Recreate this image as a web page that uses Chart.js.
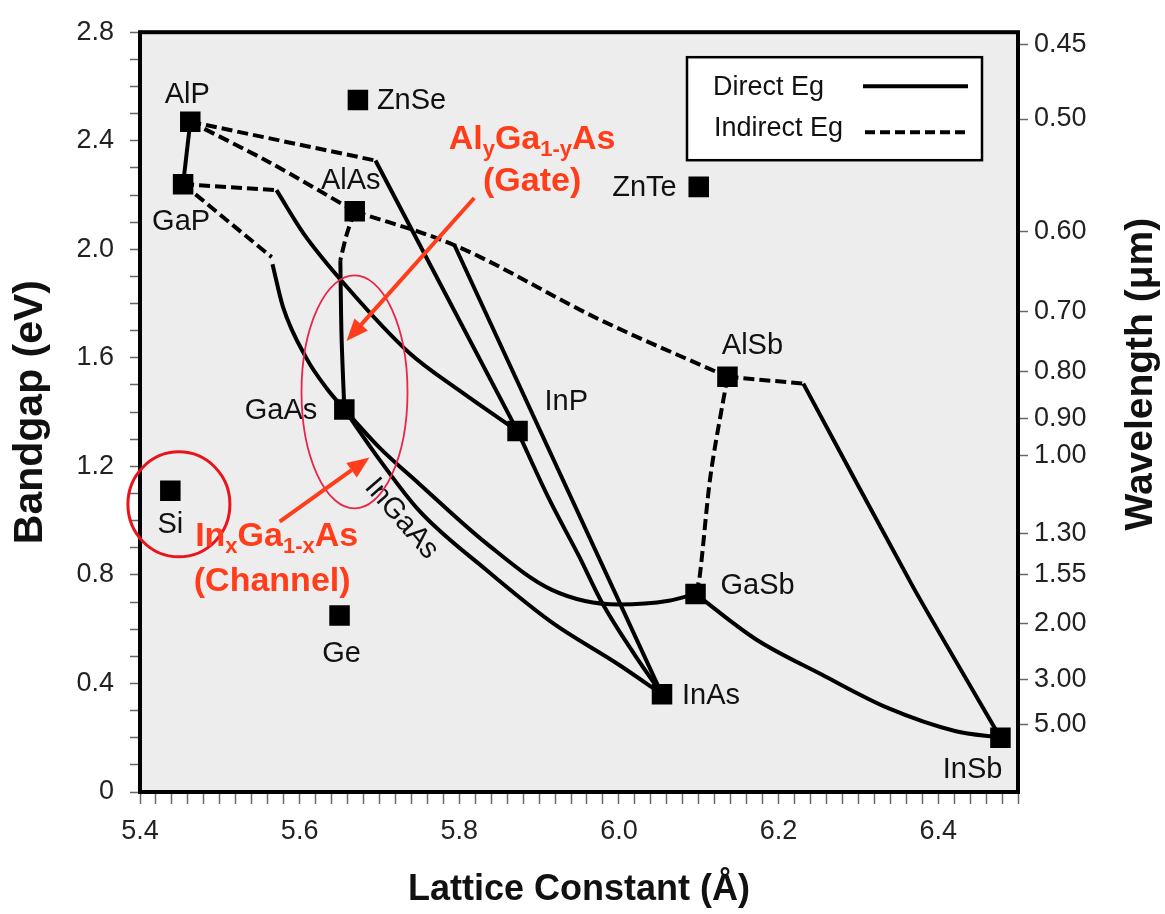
<!DOCTYPE html>
<html>
<head>
<meta charset="utf-8">
<script src="https://cdn.jsdelivr.net/npm/chart.js@4.4.1/dist/chart.umd.min.js"></script>
<style>
  body { margin: 0; background: #fff; }
  canvas { display: block; }
</style>
</head>
<body>
<canvas id="chart" width="1165" height="914"></canvas>
<script>
// binary compounds
const materials = ["AlP", "GaP", "AlAs", "GaAs", "InP", "AlSb", "GaSb", "InAs", "InSb", "Si", "Ge", "ZnSe", "ZnTe"];
const latticeConst = [5.463, 5.454, 5.669, 5.656, 5.873, 6.136, 6.096, 6.054, 6.478, 5.438, 5.650, 5.673, 6.100];
const bandgap = [2.47, 2.24, 2.14, 1.41, 1.33, 1.53, 0.73, 0.36, 0.20, 1.11, 0.65, 2.55, 2.23];

// ternary alloy curves (x: lattice constant in Å, y: bandgap in eV)
const alGaPX = [5.463, 5.454];
const alGaPY = [2.47, 2.24];
const alAsPX = [5.463, 5.5625, 5.669];
const alAsPY = [2.47, 2.32, 2.14];
const alInPIndX = [5.463, 5.695];
const alInPIndY = [2.47, 2.327];
const alInPX = [5.695, 5.873];
const alInPY = [2.327, 1.33];
const gaInPIndX = [5.454, 5.571];
const gaInPIndY = [2.24, 2.218];
const gaInPX = [5.571, 5.605, 5.659, 5.7375, 5.80, 5.873];
const gaInPY = [2.218, 2.058, 1.862, 1.618, 1.48, 1.33];
const gaAsPIndX = [5.454, 5.565];
const gaAsPIndY = [2.24, 1.971];
const gaAsPX = [5.566, 5.579, 5.609, 5.634, 5.656];
const gaAsPY = [1.945, 1.789, 1.596, 1.487, 1.41];
const alGaAsIndX = [5.669, 5.659, 5.651];
const alGaAsIndY = [2.14, 2.055, 1.96];
const alGaAsX = [5.651, 5.6525, 5.656];
const alGaAsY = [1.96, 1.68, 1.41];
const alAsSbX = [5.669, 5.794, 5.975, 6.136];
const alAsSbY = [2.14, 2.015, 1.742, 1.53];
const alInAsX = [5.794, 6.054];
const alInAsY = [2.015, 0.36];
const inAsPX = [5.873, 5.9125, 5.95, 5.9775, 6.019, 6.054];
const inAsPY = [1.33, 1.08, 0.869, 0.705, 0.509, 0.36];
const gaAsSbX = [5.656, 5.70, 5.75, 5.834, 5.916, 6.0, 6.0625, 6.096];
const gaAsSbY = [1.41, 1.269, 1.135, 0.916, 0.745, 0.691, 0.705, 0.73];
const inGaAsX = [5.656, 5.70, 5.75, 5.834, 5.916, 6.0, 6.054];
const inGaAsY = [1.41, 1.225, 1.036, 0.818, 0.625, 0.469, 0.36];
const alGaSbX = [6.136, 6.115, 6.101, 6.096];
const alGaSbY = [1.53, 1.171, 0.789, 0.73];
const alInSbIndX = [6.136, 6.231];
const alInSbIndY = [1.53, 1.505];
const alInSbX = [6.231, 6.369, 6.478];
const alInSbY = [1.505, 0.753, 0.20];
const gaInSbX = [6.096, 6.171, 6.254, 6.3375, 6.421, 6.478];
const gaInSbY = [0.73, 0.564, 0.433, 0.309, 0.225, 0.20];

// axes
const latticeLabels = [5.4, 5.6, 5.8, 6.0, 6.2, 6.4];
const bandgapLabels = [0, 0.4, 0.8, 1.2, 1.6, 2.0, 2.4, 2.8];
const wavelengthTicks = [0.45, 0.50, 0.60, 0.70, 0.80, 0.90, 1.00, 1.30, 1.55, 2.00, 3.00, 5.00];

// [x, y, indirect gap?, smoothing] ("m" = monotone cubic)
const curves = [
  [alGaPX, alGaPY, false, 0],
  [alAsPX, alAsPY, true, 0.3],
  [alInPIndX, alInPIndY, true, 0],
  [alInPX, alInPY, false, 0],
  [gaInPIndX, gaInPIndY, true, 0],
  [gaInPX, gaInPY, false, "m"],
  [gaAsPIndX, gaAsPIndY, true, 0],
  [gaAsPX, gaAsPY, false, "m"],
  [alGaAsIndX, alGaAsIndY, true, 0.3],
  [alGaAsX, alGaAsY, false, 0.3],
  [alAsSbX, alAsSbY, true, "m"],
  [alInAsX, alInAsY, false, 0],
  [inAsPX, inAsPY, false, "m"],
  [gaAsSbX, gaAsSbY, false, "m"],
  [inGaAsX, inGaAsY, false, "m"],
  [alGaSbX, alGaSbY, true, 0.3],
  [alInSbIndX, alInSbIndY, true, 0],
  [alInSbX, alInSbY, false, 0.2],
  [gaInSbX, gaInSbY, false, "m"],
];

const FONT = '"Liberation Sans", Arial, Helvetica, sans-serif';
Chart.defaults.font.family = FONT;
Chart.defaults.color = "#222";

// where the compound names sit relative to their marker (px)
const labelPos = {
  AlP: [-3, -27, "center"], GaP: [-2, 38, "center"], AlAs: [-4, -30, "center"],
  GaAs: [-27, 2, "right"], InP: [27, -29, "left"], AlSb: [25, -31, "center"],
  GaSb: [25, -8, "left"], InAs: [20, 2, "left"], InSb: [2, 32, "right"],
  Si: [0, 34, "center"], Ge: [2, 38, "center"], ZnSe: [19, 1, "left"], ZnTe: [-22, 1, "right"],
};

const datasets = [{
  data: materials.map((m, i) => ({ x: latticeConst[i], y: bandgap[i] })),
  showLine: false,
  pointStyle: "rect",
  pointRadius: 14.5,
  pointHoverRadius: 14.5,
  backgroundColor: "#000",
  borderColor: "#000",
  borderWidth: 0,
}];

curves.forEach(([xs, ys, indirect, smooth]) => {
  datasets.push({
    data: xs.map((x, i) => ({ x: x, y: ys[i] })),
    showLine: true,
    pointRadius: 0,
    borderColor: "#000",
    borderWidth: 4,
    borderDash: indirect ? [11, 5] : [],
    tension: smooth === "m" ? 0.4 : smooth,
    cubicInterpolationMode: smooth === "m" ? "monotone" : "default",
    fill: false,
  });
});

function drawArrow(ctx, x1, y1, x2, y2) {
  const ang = Math.atan2(y2 - y1, x2 - x1);
  const head = 22, half = 9;
  const bx = x2 - head * Math.cos(ang), by = y2 - head * Math.sin(ang);
  ctx.beginPath();
  ctx.moveTo(x1, y1);
  ctx.lineTo(bx, by);
  ctx.stroke();
  ctx.beginPath();
  ctx.moveTo(x2, y2);
  ctx.lineTo(bx + half * Math.sin(ang), by - half * Math.cos(ang));
  ctx.lineTo(bx - half * Math.sin(ang), by + half * Math.cos(ang));
  ctx.closePath();
  ctx.fill();
}

function drawRich(ctx, parts, cx, y) {
  const big = "bold 34px " + FONT;
  const small = "bold 22px " + FONT;
  let w = 0;
  parts.forEach((p) => {
    ctx.font = p[1] ? small : big;
    w += ctx.measureText(p[0]).width;
  });
  let x = cx - w / 2;
  ctx.textAlign = "left";
  ctx.textBaseline = "alphabetic";
  parts.forEach((p) => {
    ctx.font = p[1] ? small : big;
    ctx.fillText(p[0], x, p[1] ? y + 7 : y);
    x += ctx.measureText(p[0]).width;
  });
}

const decorPlugin = {
  id: "decor",
  beforeDraw(chart) {
    const { ctx, chartArea: a } = chart;
    ctx.save();
    ctx.fillStyle = "#ededed";
    ctx.fillRect(a.left, a.top, a.right - a.left, a.bottom - a.top);
    ctx.restore();
  },
  afterDatasetsDraw(chart) {
    const { ctx, chartArea: a } = chart;
    const xs = chart.scales.x, ys = chart.scales.y;
    const px = (v) => xs.getPixelForValue(v);
    const py = (v) => ys.getPixelForValue(v);
    ctx.save();

    // frame
    ctx.strokeStyle = "#000";
    ctx.lineWidth = 4;
    ctx.strokeRect(a.left, a.top, a.right - a.left, a.bottom - a.top);

    // legend box
    const lx = a.left + 547, ly = a.top + 25;
    ctx.fillStyle = "#fff";
    ctx.fillRect(lx, ly, 295, 103);
    ctx.lineWidth = 2.5;
    ctx.strokeRect(lx, ly, 295, 103);
    ctx.fillStyle = "#111";
    ctx.font = "27px " + FONT;
    ctx.textAlign = "left";
    ctx.textBaseline = "middle";
    ctx.fillText("Direct Eg", lx + 26, ly + 30);
    ctx.fillText("Indirect Eg", lx + 27, ly + 71);
    ctx.lineWidth = 4;
    ctx.beginPath();
    ctx.moveTo(lx + 176, ly + 29);
    ctx.lineTo(lx + 281, ly + 29);
    ctx.stroke();
    ctx.setLineDash([10, 5]);
    ctx.beginPath();
    ctx.moveTo(lx + 178, ly + 75);
    ctx.lineTo(lx + 281, ly + 75);
    ctx.stroke();
    ctx.setLineDash([]);

    // compound names
    ctx.font = "29px " + FONT;
    ctx.fillStyle = "#111";
    materials.forEach((m, i) => {
      const p = labelPos[m];
      ctx.textAlign = p[2];
      ctx.fillText(m, px(latticeConst[i]) + p[0], py(bandgap[i]) + p[1]);
    });

    // InGaAs along the curve
    ctx.save();
    ctx.translate(px(5.7275), py(1.007));
    ctx.rotate(49 * Math.PI / 180);
    ctx.textAlign = "center";
    ctx.font = "29px " + FONT;
    ctx.fillText("InGaAs", 0, 0);
    ctx.restore();

    // ellipses
    ctx.strokeStyle = "#e8141c";
    ctx.lineWidth = 3;
    ctx.beginPath();
    ctx.ellipse(px(5.44875), py(1.06), 51, 52.5, 0, 0, Math.PI * 2);
    ctx.stroke();
    ctx.strokeStyle = "#e8264a";
    ctx.lineWidth = 1.8;
    ctx.beginPath();
    ctx.ellipse(px(5.66875), py(1.4745), 53, 116.5, 0, 0, Math.PI * 2);
    ctx.stroke();

    // arrows and red notes
    ctx.strokeStyle = "#ff3d1a";
    ctx.fillStyle = "#ff3d1a";
    ctx.lineWidth = 4;
    drawArrow(ctx, px(5.81875), py(2.189), px(5.65875), py(1.662));
    drawArrow(ctx, px(5.575), py(0.996), px(5.6875), py(1.233));
    drawRich(ctx, [["Al"], ["y", 1], ["Ga"], ["1-y", 1], ["As"]], px(5.89125), py(2.371));
    drawRich(ctx, [["(Gate)"]], px(5.89125), py(2.215));
    drawRich(ctx, [["In"], ["x", 1], ["Ga"], ["1-x", 1], ["As"]], px(5.57125), py(0.905));
    drawRich(ctx, [["(Channel)"]], px(5.5656), py(0.742));
    ctx.restore();
  },
  afterDraw(chart) {
    const { ctx, chartArea: a } = chart;
    ctx.save();
    ctx.translate(chart.scales.y2.right - 24, (a.top + a.bottom) / 2 - 38);
    ctx.rotate(-Math.PI / 2);
    ctx.font = "bold 39px " + FONT;
    ctx.fillStyle = "#111";
    ctx.textAlign = "center";
    ctx.textBaseline = "middle";
    ctx.fillText("Wavelength (\u03bcm)", 0, 0);
    ctx.restore();
  },
};

const tickFont = { size: 27 };

new Chart(document.getElementById("chart"), {
  type: "scatter",
  data: { datasets: datasets },
  options: {
    responsive: false,
    animation: false,
    devicePixelRatio: 1,
    layout: { padding: { top: 22 } },
    plugins: { legend: { display: false }, tooltip: { enabled: false } },
    scales: {
      x: {
        type: "linear",
        position: "bottom",
        min: 5.4,
        max: 6.5,
        afterFit: (s) => { s.height = 122; },
        afterBuildTicks: (s) => {
          const t = [];
          for (let i = 0; i <= 55; i++) t.push({ value: +(5.4 + i * 0.02).toFixed(2) });
          s.ticks = t;
        },
        ticks: {
          autoSkip: false,
          maxRotation: 0,
          padding: 11,
          font: tickFont,
          color: "#222",
          callback: (v) => {
            const l = latticeLabels.find((k) => Math.abs(k - v) < 1e-6);
            return l !== undefined ? l.toFixed(1) : "";
          },
        },
        grid: { drawOnChartArea: false, tickLength: 12, tickColor: "#666", tickWidth: 1.5 },
        border: { display: false },
        title: { display: true, text: "Lattice Constant (\u00c5)", font: { size: 36, weight: "bold" }, color: "#111", padding: { top: 0, bottom: 2 } },
      },
      y: {
        type: "linear",
        position: "left",
        min: 0,
        max: 2.8,
        afterFit: (s) => { s.width = 140; },
        afterBuildTicks: (s) => {
          const t = [];
          for (let i = 0; i <= 28; i++) t.push({ value: +(i * 0.1).toFixed(1) });
          s.ticks = t;
        },
        ticks: {
          autoSkip: false,
          padding: 16,
          font: tickFont,
          color: "#222",
          callback: (v) => {
            const l = bandgapLabels.find((k) => Math.abs(k - v) < 1e-6);
            if (l === undefined) return "";
            return l === 0 ? "0" : l.toFixed(1);
          },
        },
        grid: { drawOnChartArea: false, tickLength: 10, tickColor: "#666", tickWidth: 1.5 },
        border: { display: false },
        title: { display: true, text: "Bandgap (eV)", font: { size: 41, weight: "bold" }, color: "#111", padding: { top: 6, bottom: 0 } },
      },
      y2: {
        type: "linear",
        position: "right",
        min: 0,
        max: 2.8,
        afterFit: (s) => { s.width = 147; },
        afterBuildTicks: (s) => {
          s.ticks = wavelengthTicks.map((l) => ({ value: 1.24 / l }));
        },
        ticks: {
          autoSkip: false,
          padding: 6,
          font: tickFont,
          color: "#222",
          callback: (v) => {
            const l = wavelengthTicks.find((k) => Math.abs(1.24 / k - v) < 1e-6);
            return l !== undefined ? l.toFixed(2) : "";
          },
        },
        grid: { drawOnChartArea: false, tickLength: 10, tickColor: "#666", tickWidth: 1.5 },
        border: { display: false },
      },
    },
  },
  plugins: [decorPlugin],
});
</script>
</body>
</html>
